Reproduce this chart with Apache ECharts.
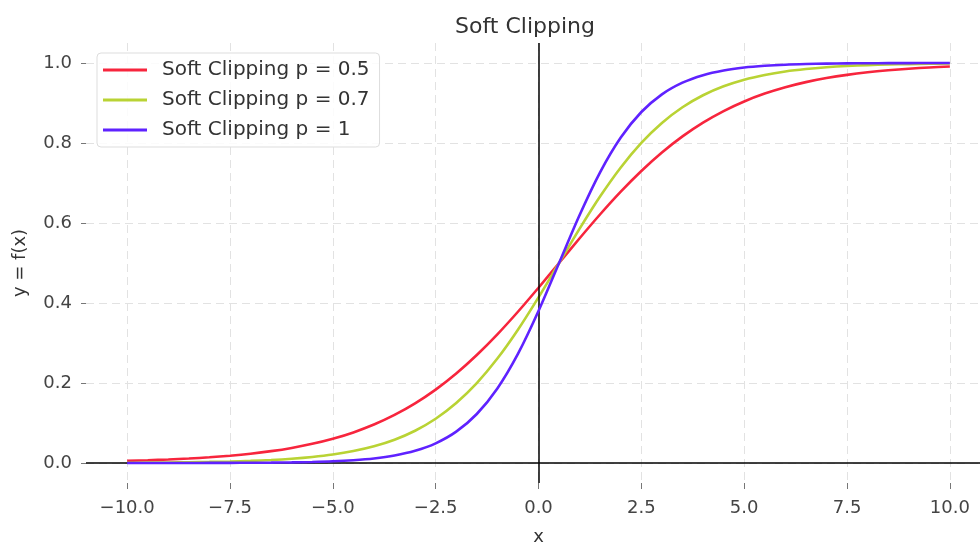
<!DOCTYPE html>
<html>
<head>
<meta charset="utf-8">
<script src="https://cdn.jsdelivr.net/npm/echarts@6/dist/echarts.min.js"></script>
<style>
  html, body { margin: 0; padding: 0; background: #ffffff; }
  #chart { width: 980px; height: 545px; }
</style>
</head>
<body>
<div id="chart"></div>
<script>
// Sample positions along x
const xValues = [-10, -9.5, -9, -8.5, -8, -7.5, -7, -6.5, -6, -5.5, -5, -4.5, -4, -3.5, -3, -2.5, -2, -1.5, -1, -0.5,
  0, 0.5, 1, 1.5, 2, 2.5, 3, 3.5, 4, 4.5, 5, 5.5, 6, 6.5, 7, 7.5, 8, 8.5, 9, 9.5, 10];

// f(x) for each sharpness value p
const softClipP05 = [0.0053, 0.0068, 0.0087, 0.0111, 0.0142, 0.0182, 0.0232, 0.0296, 0.0377, 0.0479, 0.0606, 0.0765,
  0.0961, 0.1201, 0.1490, 0.1834, 0.2237, 0.2699, 0.3216, 0.3781, 0.4381, 0.5000, 0.5619, 0.6219, 0.6784, 0.7301,
  0.7763, 0.8166, 0.8510, 0.8799, 0.9039, 0.9235, 0.9394, 0.9522, 0.9623, 0.9704, 0.9768, 0.9818, 0.9858, 0.9889, 0.9913];
const softClipP07 = [0.0007, 0.0009, 0.0013, 0.0019, 0.0027, 0.0038, 0.0053, 0.0075, 0.0107, 0.0151, 0.0212, 0.0299,
  0.0418, 0.0583, 0.0807, 0.1107, 0.1499, 0.1997, 0.2611, 0.3333, 0.4142, 0.5000, 0.5858, 0.6667, 0.7389, 0.8003,
  0.8501, 0.8893, 0.9193, 0.9417, 0.9582, 0.9701, 0.9788, 0.9849, 0.9893, 0.9925, 0.9947, 0.9962, 0.9973, 0.9981, 0.9987];
const softClipP1 = [0.0000, 0.0000, 0.0001, 0.0001, 0.0002, 0.0004, 0.0006, 0.0009, 0.0016, 0.0026, 0.0042, 0.0070,
  0.0114, 0.0187, 0.0304, 0.0491, 0.0783, 0.1225, 0.1863, 0.2727, 0.3799, 0.5000, 0.6201, 0.7273, 0.8137, 0.8775,
  0.9217, 0.9509, 0.9696, 0.9813, 0.9886, 0.9930, 0.9958, 0.9974, 0.9984, 0.9991, 0.9994, 0.9996, 0.9998, 0.9999, 0.9999];

const seriesNames = ['Soft Clipping p = 0.5', 'Soft Clipping p = 0.7', 'Soft Clipping p = 1'];
const seriesColors = ['#f7253d', '#b9d334', '#5f22ff'];

// Tick positions
const xTicks = [-10, -7.5, -5, -2.5, 0, 2.5, 5, 7.5, 10];
const yTicks = [0, 0.2, 0.4, 0.6, 0.8, 1.0];

const FONT = 'DejaVu Sans';
const fmt = v => (v < 0 ? '\u2212' : '') + Math.abs(v).toFixed(1);

const pairs = ys => xValues.map((x, i) => [x, ys[i]]);
const allSeries = [softClipP05, softClipP07, softClipP1];

const chart = echarts.init(document.getElementById('chart'), null, { renderer: 'canvas' });

const series = allSeries.map((ys, i) => ({
  name: seriesNames[i],
  type: 'line',
  data: pairs(ys),
  smooth: 0.3,
  symbol: 'none',
  lineStyle: { color: seriesColors[i], width: 2.6 },
  itemStyle: { color: seriesColors[i] },
  emphasis: { disabled: true },
  z: 3 + i
}));

// Black reference lines through the origin
series[0].markLine = {
  silent: true,
  symbol: ['none', 'none'],
  label: { show: false },
  lineStyle: { color: '#000000', width: 1.5, type: 'solid' },
  data: [{ yAxis: 0 }, { xAxis: 0 }]
};

chart.setOption({
  animation: false,
  backgroundColor: '#ffffff',
  title: {
    text: 'Soft Clipping',
    left: 450,
    top: 11,
    textStyle: { fontFamily: FONT, fontSize: 22, fontWeight: 'normal', color: '#333333' }
  },
  legend: {
    orient: 'vertical',
    left: 97,
    top: 53,
    padding: [6, 10, 6, 6],
    itemGap: 8,
    itemWidth: 44,
    itemHeight: 3,
    icon: 'rect',
    backgroundColor: 'rgba(255,255,255,0.85)',
    borderColor: '#dddddd',
    borderWidth: 1,
    borderRadius: 4,
    textStyle: { fontFamily: FONT, fontSize: 20, color: '#333333', padding: [0, 0, 0, 10], lineHeight: 22 },
    data: seriesNames
  },
  grid: { left: 86, width: 905, top: 43, height: 440, containLabel: false, outerBoundsMode: 'none' },
  xAxis: {
    type: 'value',
    min: -11,
    max: 11,
    name: 'x',
    nameLocation: 'middle',
    nameGap: 45,
    nameTextStyle: { fontFamily: FONT, fontSize: 18, color: '#333333' },
    axisLine: { show: false, onZero: false },
    axisTick: { show: true, length: 6, customValues: xTicks, lineStyle: { color: '#777777', width: 1 } },
    axisLabel: { customValues: xTicks, formatter: fmt, margin: 16, fontFamily: FONT, fontSize: 18, color: '#444444' },
    splitLine: { show: true, lineStyle: { color: '#e2e2e2', width: 1, type: [8, 5] } }
  },
  yAxis: {
    type: 'value',
    min: -0.05,
    max: 1.05,
    name: 'y = f(x)',
    nameLocation: 'middle',
    nameGap: 57,
    nameTextStyle: { fontFamily: FONT, fontSize: 18, color: '#333333' },
    axisLine: { show: false, onZero: false },
    axisTick: { show: true, length: 5, customValues: yTicks, lineStyle: { color: '#777777', width: 1 } },
    axisLabel: { customValues: yTicks, formatter: fmt, margin: 14, fontFamily: FONT, fontSize: 18, color: '#444444' },
    splitLine: { show: true, lineStyle: { color: '#e2e2e2', width: 1, type: [8, 5] } }
  },
  series: series
});
</script>
</body>
</html>
